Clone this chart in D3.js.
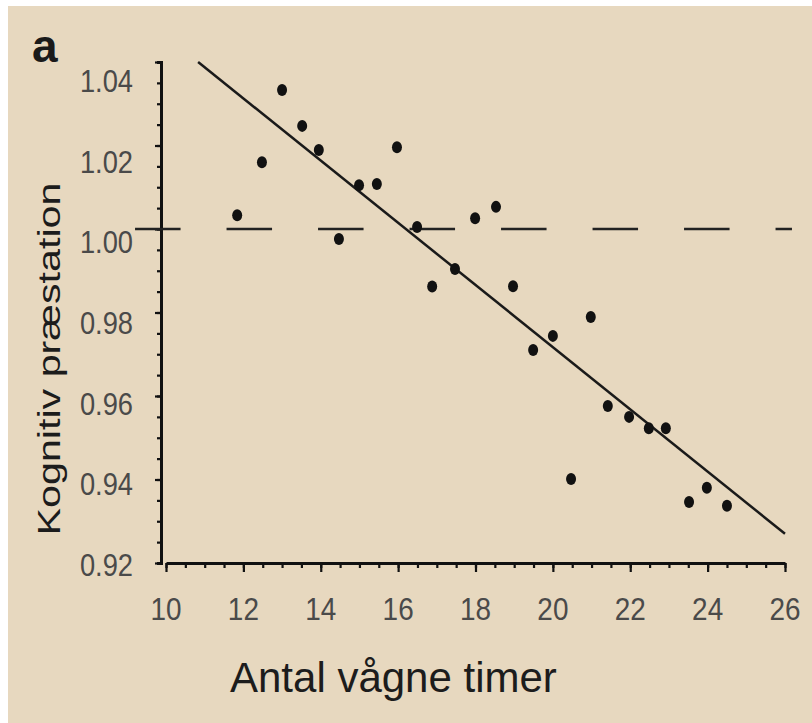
<!DOCTYPE html>
<html>
<head>
<meta charset="utf-8">
<script src="https://cdn.jsdelivr.net/npm/d3@7"></script>
<style>
  body { margin: 0; background: #fff; }
  text { font-family: 'Liberation Sans', Arial, sans-serif; }
</style>
</head>
<body>
<div id="chart"></div>
<script>
// hours awake vs. relative cognitive performance
const hours = [11.84, 12.48, 13.0, 13.52, 13.95, 14.47, 14.99, 15.45, 15.97, 16.49, 16.88, 17.47, 17.99,
  18.53, 18.97, 19.49, 20.0, 20.47, 20.98, 21.42, 21.97, 22.48, 22.92, 23.52, 23.98, 24.5]
const performance = [1.0033, 1.016, 1.0333, 1.0247, 1.0189, 0.9976, 1.0105, 1.0108, 1.0196, 1.0005, 0.9862,
  0.9904, 1.0026, 1.0053, 0.9863, 0.971, 0.9744, 0.9401, 0.9789, 0.9576, 0.955, 0.9523, 0.9523, 0.9346,
  0.938, 0.9337]

// fitted line
const fitLine = [[10.83, 1.04], [26.0, 0.927]]
// dashed reference level
const refLevel = 1.0
const refExtent = [9.2, 26.18]

const xTicks = [10, 12, 14, 16, 18, 20, 22, 24, 26]
const yTicks = [0.92, 0.94, 0.96, 0.98, 1.0, 1.02, 1.04]

const xTitle = 'Antal vågne timer'
const yTitle = 'Kognitiv præstation'
const panelLabel = 'a'

let width = 812
let height = 723

let svg = d3
  .select('#chart')
  .append('svg')
  .attr('width', width)
  .attr('height', height)

svg.append('rect')
  .attr('x', 8)
  .attr('y', 6)
  .attr('width', width - 8)
  .attr('height', height - 6)
  .attr('fill', '#e7d8bf')

let x = d3.scaleLinear().domain([10, 26]).range([166, 785])
let y = d3.scaleLinear().domain([0.92, 1.04]).range([563, 62])
// the tick labels sit on a slightly different spacing than the ticks
let yLabel = d3.scaleLinear().domain([0.92, 1.04]).range([565, 81])

// x axis: minor + major ticks
let xMinor = svg.append('g')
  .attr('transform', `translate(0,${y(0.92)})`)
  .call(d3.axisBottom(x).tickValues(d3.range(10, 26.01, 0.5)).tickSize(5).tickSizeOuter(0).tickFormat(''))
let xMajor = svg.append('g')
  .attr('transform', `translate(0,${y(0.92)})`)
  .call(d3.axisBottom(x).tickValues(xTicks).tickSize(9).tickSizeOuter(0).tickFormat(''))

// y axis: minor + major ticks
let yMinor = svg.append('g')
  .attr('transform', `translate(${x(10) - 5},0)`)
  .call(d3.axisLeft(y).tickValues(d3.range(0.92, 1.0401, 0.005)).tickSize(4).tickSizeOuter(4).tickFormat(''))
let yMajor = svg.append('g')
  .attr('transform', `translate(${x(10) - 5},0)`)
  .call(d3.axisLeft(y).tickValues(yTicks).tickSize(6).tickSizeOuter(4).tickFormat(''))

svg.selectAll('.domain').attr('stroke', '#111').attr('stroke-width', 3).attr('fill', 'none')
svg.selectAll('.tick line').attr('stroke', '#111').attr('stroke-width', 2.2)
xMajor.select('.domain').remove()
yMajor.select('.domain').remove()

// tick labels
svg.selectAll('.x-label')
  .data(xTicks)
  .enter()
  .append('text')
  .attr('class', 'x-label')
  .attr('transform', d => `translate(${x(d)},620) scale(0.9,1)`)
  .attr('text-anchor', 'middle')
  .attr('font-size', 31)
  .attr('fill', '#4a4a4a')
  .text(d => d)

svg.selectAll('.y-label')
  .data(yTicks)
  .enter()
  .append('text')
  .attr('class', 'y-label')
  .attr('transform', d => `translate(133,${yLabel(d) + 11}) scale(0.88,1)`)
  .attr('text-anchor', 'end')
  .attr('font-size', 31)
  .attr('fill', '#4a4a4a')
  .text(d => d3.format('.2f')(d))

// dashed reference line at 1.00
svg.append('line')
  .attr('x1', x(refExtent[0]))
  .attr('x2', x(refExtent[1]))
  .attr('y1', y(refLevel))
  .attr('y2', y(refLevel))
  .attr('stroke', '#222')
  .attr('stroke-width', 2.5)
  .attr('stroke-dasharray', '45.5,46')

// fitted line
svg.append('line')
  .attr('x1', x(fitLine[0][0]))
  .attr('y1', y(fitLine[0][1]))
  .attr('x2', x(fitLine[1][0]))
  .attr('y2', y(fitLine[1][1]))
  .attr('stroke', '#1a1a1a')
  .attr('stroke-width', 2.5)

// data points
svg.selectAll('.dot')
  .data(hours)
  .enter()
  .append('ellipse')
  .attr('class', 'dot')
  .attr('cx', d => x(d))
  .attr('cy', (d, i) => y(performance[i]))
  .attr('rx', 5)
  .attr('ry', 6)
  .attr('fill', '#111')

// titles
svg.append('text')
  .text(xTitle)
  .attr('x', 230)
  .attr('y', 692)
  .attr('font-size', 42)
  .attr('fill', '#1c1c1c')

svg.append('text')
  .text(yTitle)
  .attr('transform', 'translate(60,359) rotate(-90) scale(1.33,1)')
  .attr('text-anchor', 'middle')
  .attr('font-size', 31)
  .attr('fill', '#1c1c1c')

svg.append('text')
  .text(panelLabel)
  .attr('x', 32)
  .attr('y', 62)
  .attr('font-size', 46)
  .attr('font-weight', 'bold')
  .attr('fill', '#1a1a1a')
</script>
</body>
</html>
